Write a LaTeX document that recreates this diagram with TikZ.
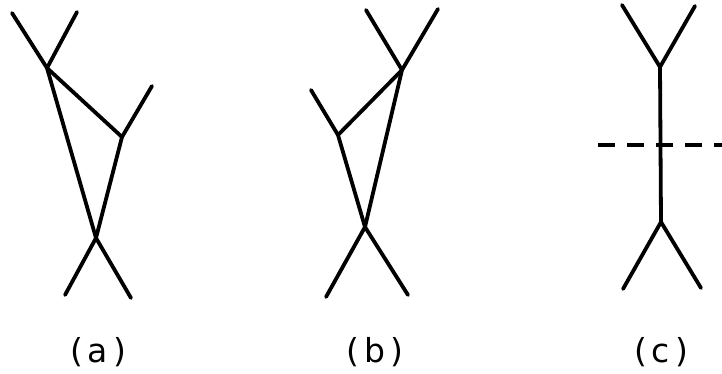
\documentclass[tikz,border=0pt]{standalone}
\usepackage{fontspec}
\setmainfont{DejaVu Sans}
\tikzset{
  edge/.style={line width=3.8pt, line cap=round, line join=round},
  cut/.style={line width=3.8pt, dash pattern=on 17pt off 12pt},
  lab/.style={font=\fontsize{33}{38}\selectfont, inner sep=0pt}
}
\begin{document}
\begin{tikzpicture}[x=1pt,y=-1pt]
\useasboundingbox (0,0) rectangle (722,374);
% (a)
\coordinate (a1) at (12,13);
\coordinate (a2) at (77,12);
\coordinate (aV1) at (47,68);
\coordinate (a3) at (152,86);
\coordinate (aV2) at (122,137);
\coordinate (aV3) at (96,238);
\coordinate (a4) at (65,295);
\coordinate (a5) at (131,298);
\draw[edge] (a1) -- (aV1) -- (aV3);
\draw[edge] (a2) -- (aV1) -- (aV2) -- (aV3);
\draw[edge] (a3) -- (aV2);
\draw[edge] (a4) -- (aV3) -- (a5);
% (b)
\coordinate (b1) at (366,10);
\coordinate (b2) at (438,9);
\coordinate (bV1) at (402,70);
\coordinate (b3) at (311,90);
\coordinate (bV2) at (338,135);
\coordinate (bV3) at (365,227);
\coordinate (b4) at (326,297);
\coordinate (b5) at (408,295);
\draw[edge] (b2) -- (bV1) -- (bV3);
\draw[edge] (b1) -- (bV1) -- (bV2) -- (bV3);
\draw[edge] (b3) -- (bV2);
\draw[edge] (b4) -- (bV3) -- (b5);
% (c)
\coordinate (c1) at (622,5);
\coordinate (c2) at (695,6);
\coordinate (cV1) at (660,67);
\coordinate (cV2) at (661,222);
\coordinate (c3) at (623,289);
\coordinate (c4) at (701,288);
\coordinate (d1) at (598,145);
\coordinate (d2) at (722,145);
\draw[edge] (c1) -- (cV1) -- (c2);
\draw[edge] (cV1) -- (cV2);
\draw[edge] (c3) -- (cV2) -- (c4);
\draw[cut] (d1) -- (d2);
% labels
\node[lab] (la) at (98,352) {(\kern5pt a\kern5pt)};
\node[lab] (lb) at (375,352) {(\kern5pt b\kern5pt)};
\node[lab] (lc) at (661,352) {(\kern5pt c\kern5pt)};
\end{tikzpicture}
\end{document}
